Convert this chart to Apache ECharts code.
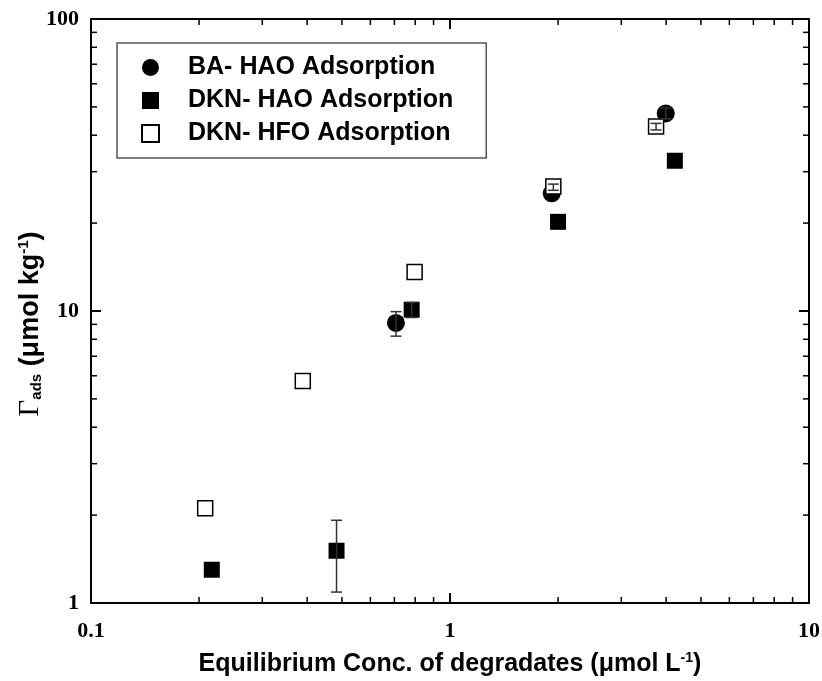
<!DOCTYPE html>
<html>
<head>
<meta charset="utf-8">
<script src="https://cdn.jsdelivr.net/npm/echarts@6/dist/echarts.min.js"></script>
<style>
  html, body { margin: 0; padding: 0; background: #fff; }
  #chart { width: 822px; height: 681px; }
</style>
</head>
<body>
<div id="chart"></div>
<script>
// BA- HAO adsorption (filled circles)
var baX = [0.707, 1.92, 3.99];
var baY = [9.1, 25.3, 47.5];
// DKN- HAO adsorption (filled squares)
var hoX = [0.217, 0.483, 0.782, 2.00, 4.23];
var hoY = [1.30, 1.51, 10.1, 20.2, 32.7];
// DKN- HFO adsorption (open squares)
var hfX = [0.208, 0.389, 0.797, 1.94, 3.75];
var hfY = [2.11, 5.76, 13.6, 26.7, 42.8];
// error bars
var errX = [0.707, 0.483, 0.782, 1.94, 3.75, 3.99];
var errLo = [8.2, 1.09, 9.5, 25.9, 41.7, 45.5];
var errHi = [9.95, 1.92, 10.7, 27.2, 43.9, 49.6];
// minor ticks of the log axes
var minorX = [0.2, 0.3, 0.4, 0.5, 0.6, 0.7, 0.8, 0.9, 2, 3, 4, 5, 6, 7, 8, 9];
var minorY = [2, 3, 4, 5, 6, 7, 8, 9, 20, 30, 40, 50, 60, 70, 80, 90];

function pairs(xs, ys) {
  return xs.map(function (x, i) { return [x, ys[i]]; });
}

var chart = echarts.init(document.getElementById('chart'), null, { renderer: 'canvas' });

var tickStyle = { color: '#000', opacity: 1 };
function tickSeries(data, size, offset) {
  return {
    type: 'scatter',
    data: data,
    symbol: 'rect',
    symbolSize: size,
    symbolOffset: offset,
    itemStyle: tickStyle,
    silent: true,
    clip: false,
    z: 1,
    emphasis: { disabled: true }
  };
}

var labelFont = {
  color: '#000',
  fontFamily: 'Liberation Serif',
  fontWeight: 'bold',
  fontSize: 22
};

var option = {
  animation: false,
  backgroundColor: '#fff',
  grid: { left: 91, right: 13, top: 19, bottom: 78, containLabel: false, outerBoundsMode: 'none' },
  legend: {
    data: ['BA- HAO Adsorption', 'DKN- HAO Adsorption', 'DKN- HFO Adsorption'],
    orient: 'vertical',
    left: 117,
    top: 43,
    padding: [12, 33, 12, 24],
    itemGap: 8,
    itemWidth: 17,
    itemHeight: 17,
    borderColor: '#555',
    borderWidth: 1.5,
    backgroundColor: '#fff',
    textStyle: {
      color: '#000',
      fontFamily: 'Liberation Sans',
      fontWeight: 'bold',
      fontSize: 25,
      lineHeight: 25,
      padding: [0, 0, 0, 24]
    }
  },
  xAxis: [
    {
      type: 'log',
      logBase: 10,
      min: 0.1,
      max: 10,
      name: '{a|Equilibrium Conc. of degradates (μmol L}{p|-1}{a|)}',
      nameLocation: 'middle',
      nameGap: 48,
      nameTextStyle: {
        rich: {
          a: { fontFamily: 'Liberation Sans', fontWeight: 'bold', fontSize: 25, color: '#000' },
          p: { fontFamily: 'Liberation Sans', fontWeight: 'bold', fontSize: 14, color: '#000', padding: [0, 0, 12, 0] }
        }
      },
      axisLine: { show: true, lineStyle: { color: '#000', width: 2 } },
      axisTick: { show: true, inside: true, length: 10, lineStyle: { color: '#000', width: 2 } },
      axisLabel: Object.assign({ margin: 17, formatter: function (v) { return String(v); } }, labelFont),
      splitLine: { show: false }
    },
    {
      type: 'log',
      logBase: 10,
      min: 0.1,
      max: 10,
      position: 'top',
      axisLine: { show: true, lineStyle: { color: '#000', width: 2 } },
      axisTick: { show: true, inside: true, length: 10, lineStyle: { color: '#000', width: 2 } },
      axisLabel: { show: false },
      splitLine: { show: false }
    }
  ],
  yAxis: [
    {
      type: 'log',
      logBase: 10,
      min: 1,
      max: 100,
      name: '{g|Γ}{s|ads}{a| (μmol kg}{p|-1}{e|)}',
      nameLocation: 'middle',
      nameRotate: 90,
      nameGap: 46,
      nameMoveOverlap: false,
      nameTextStyle: {
        rich: {
          g: { fontFamily: 'Liberation Serif', fontWeight: 'normal', fontSize: 29, color: '#000' },
          s: { fontFamily: 'Liberation Sans', fontWeight: 'bold', fontSize: 15, color: '#000', padding: [13, 0, 0, 0] },
          a: { fontFamily: 'Liberation Sans', fontWeight: 'bold', fontSize: 27, color: '#000' },
          p: { fontFamily: 'Liberation Sans', fontWeight: 'bold', fontSize: 15, color: '#000', padding: [0, 0, 13, 0] },
          e: { fontFamily: 'Liberation Sans', fontWeight: 'bold', fontSize: 27, color: '#000', padding: [0, 26, 0, 0] }
        }
      },
      axisLine: { show: true, lineStyle: { color: '#000', width: 2 } },
      axisTick: { show: true, inside: true, length: 10, lineStyle: { color: '#000', width: 2 } },
      axisLabel: Object.assign({ margin: 12, formatter: function (v) { return String(v); } }, labelFont),
      splitLine: { show: false }
    },
    {
      type: 'log',
      logBase: 10,
      min: 1,
      max: 100,
      position: 'right',
      axisLine: { show: true, lineStyle: { color: '#000', width: 2 } },
      axisTick: { show: true, inside: true, length: 10, lineStyle: { color: '#000', width: 2 } },
      axisLabel: { show: false },
      splitLine: { show: false }
    }
  ],
  series: [
    tickSeries(minorX.map(function (x) { return [x, 1]; }), [1.5, 6], [0, -3]),
    tickSeries(minorX.map(function (x) { return [x, 100]; }), [1.5, 6], [0, 3]),
    tickSeries(minorY.map(function (y) { return [0.1, y]; }), [6, 1.5], [3, 0]),
    tickSeries(minorY.map(function (y) { return [10, y]; }), [6, 1.5], [-3, 0]),
    {
      name: 'BA- HAO Adsorption',
      type: 'scatter',
      data: pairs(baX, baY),
      symbol: 'circle',
      symbolSize: 18,
      itemStyle: { color: '#000', opacity: 1 },
      z: 3
    },
    {
      name: 'DKN- HAO Adsorption',
      type: 'scatter',
      data: pairs(hoX, hoY),
      symbol: 'rect',
      symbolSize: 16,
      itemStyle: { color: '#000', opacity: 1 },
      z: 4
    },
    {
      name: 'DKN- HFO Adsorption',
      type: 'scatter',
      data: pairs(hfX, hfY),
      symbol: 'rect',
      symbolSize: 15,
      itemStyle: { color: '#fff', borderColor: '#000', borderWidth: 1.5, opacity: 1 },
      z: 5
    },
    {
      type: 'custom',
      silent: true,
      z: 6,
      data: errX.map(function (x, i) { return [x, errLo[i], errHi[i]]; }),
      renderItem: function (params, api) {
        var lo = api.coord([api.value(0), api.value(1)]);
        var hi = api.coord([api.value(0), api.value(2)]);
        var w = 5.5;
        var st = { stroke: '#333', lineWidth: 1.5 };
        return {
          type: 'group',
          children: [
            { type: 'line', shape: { x1: lo[0], y1: lo[1], x2: hi[0], y2: hi[1] }, style: st },
            { type: 'line', shape: { x1: lo[0] - w, y1: lo[1], x2: lo[0] + w, y2: lo[1] }, style: st },
            { type: 'line', shape: { x1: hi[0] - w, y1: hi[1], x2: hi[0] + w, y2: hi[1] }, style: st }
          ]
        };
      }
    }
  ]
};

chart.setOption(option);
window.addEventListener('resize', function () {
  chart.resize();
});
</script>
</body>
</html>
